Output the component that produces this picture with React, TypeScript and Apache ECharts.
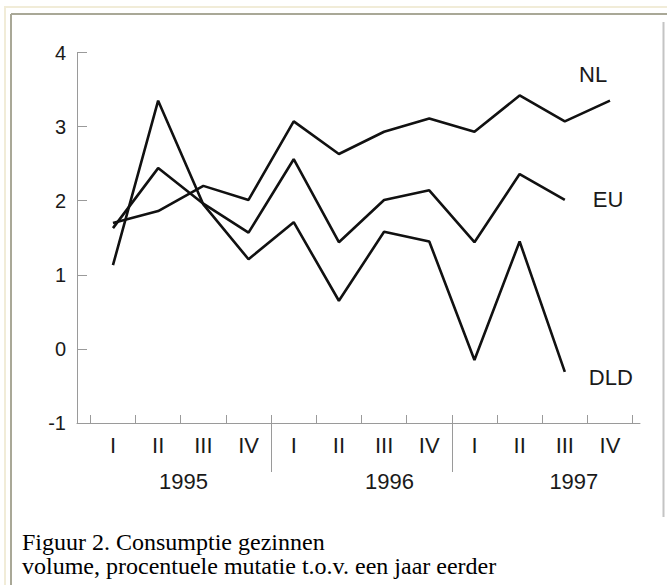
import React, { useEffect, useRef } from "react";
import * as echarts from "echarts";

// ---- data ----
const quarterLabels = ["I", "II", "III", "IV", "I", "II", "III", "IV", "I", "II", "III", "IV"];
const yearLabels = ["1995", "1996", "1997"];
const seriesNames = ["NL", "EU", "DLD"];
const nlValues = [1.7, 1.86, 2.2, 2.01, 3.07, 2.63, 2.93, 3.11, 2.93, 3.42, 3.07, 3.35];
const euValues = [1.63, 2.44, 1.96, 1.57, 2.56, 1.44, 2.01, 2.14, 1.44, 2.36, 2.01];
const dldValues = [1.13, 3.35, 1.95, 1.21, 1.71, 0.65, 1.58, 1.45, -0.15, 1.45, -0.31];
const yTicks = [-1, 0, 1, 2, 3, 4];
const captionLines = [
  "Figuur 2. Consumptie gezinnen",
  "volume, procentuele mutatie t.o.v. een jaar eerder",
];

// ---- layout constants ----
const W = 667;
const H = 585;
const SANS = "'Liberation Sans', Arial, Helvetica, sans-serif";
const SERIF = "'Liberation Serif', 'Times New Roman', serif";
const AXIS_GRAY = "#9a9a9a";
const TEXT = "#1a1a1a";
const LINE = "#111";
const X_MIN = -0.796;
const X_MAX = 11.664;
const yearLabelAt = [1.56, 6.12, 10.2];
const yearDividerAt = [3.5, 7.5];

const toPairs = (vals: number[]) => vals.map((v, i) => [i, v]);

export default function App() {
  const ref = useRef<HTMLDivElement>(null);

  useEffect(() => {
    if (!ref.current) return;
    const chart = echarts.init(ref.current, undefined, { renderer: "svg" });

    const bandTicks = quarterLabels.map((_, i) => i - 0.5).concat([quarterLabels.length - 0.5]);
    const labelTicks = quarterLabels.map((_, i) => i);

    const lineSeries = (name: string, vals: number[], label: any) => ({
      name,
      type: "line",
      xAxisIndex: 0,
      yAxisIndex: 0,
      data: toPairs(vals),
      symbol: "none",
      lineStyle: { color: LINE, width: 2.6 },
      itemStyle: { color: LINE },
      endLabel: {
        show: true,
        formatter: name,
        color: TEXT,
        fontFamily: SANS,
        fontSize: 22,
        ...label,
      },
      silent: true,
    });

    chart.setOption({
      animation: false,
      backgroundColor: "#fff",
      grid: {
        left: 77,
        right: 27,
        top: 52.5,
        bottom: H - 423,
        outerBoundsMode: "none",
      },
      xAxis: [
        {
          type: "value",
          position: "bottom",
          min: X_MIN,
          max: X_MAX,
          axisLine: { show: true, onZero: false, lineStyle: { color: AXIS_GRAY, width: 1 } },
          axisTick: {
            show: true,
            inside: true,
            length: 8,
            customValues: bandTicks,
            lineStyle: { color: AXIS_GRAY, width: 1 },
          },
          axisLabel: {
            show: true,
            customValues: labelTicks,
            formatter: (v: number) => quarterLabels[Math.round(v)] ?? "",
            color: TEXT,
            fontFamily: SANS,
            fontSize: 22,
            margin: 11,
          },
          splitLine: { show: false },
        },
        {
          type: "value",
          position: "bottom",
          min: X_MIN,
          max: X_MAX,
          axisLine: { show: false, onZero: false },
          axisTick: {
            show: true,
            inside: false,
            length: 49,
            customValues: yearDividerAt,
            lineStyle: { color: AXIS_GRAY, width: 1 },
          },
          axisLabel: {
            show: true,
            customValues: yearLabelAt,
            formatter: (v: number) => {
              const idx = yearLabelAt.findIndex((p) => Math.abs(p - v) < 1e-6);
              return idx >= 0 ? yearLabels[idx] : "";
            },
            color: TEXT,
            fontFamily: SANS,
            fontSize: 22,
            margin: 47,
          },
          splitLine: { show: false },
        },
      ],
      yAxis: {
        type: "value",
        min: yTicks[0],
        max: yTicks[yTicks.length - 1],
        interval: 1,
        axisLine: { show: true, onZero: false, lineStyle: { color: AXIS_GRAY, width: 1 } },
        axisTick: { show: true, inside: true, length: 10, lineStyle: { color: AXIS_GRAY, width: 1 } },
        axisLabel: {
          color: TEXT,
          fontFamily: SANS,
          fontSize: 20,
          margin: 11,
        },
        splitLine: { show: false },
      },
      series: [
        lineSeries(seriesNames[0], nlValues, { distance: 5, offset: [-36, -26] }),
        lineSeries(seriesNames[1], euValues, { distance: 28, offset: [0, 0] }),
        lineSeries(seriesNames[2], dldValues, { distance: 24, offset: [0, 6] }),
      ],
      graphic: [
        // outer beige frame
        { type: "rect", shape: { x: 5, y: 7, width: W, height: H }, style: { fill: "none", stroke: "#f1ecd8", lineWidth: 2 }, silent: true },
        // inner gray frame (top + left)
        { type: "line", shape: { x1: 11, y1: 14, x2: W, y2: 14 }, style: { stroke: "#a9a897", lineWidth: 2 }, silent: true },
        { type: "line", shape: { x1: 11, y1: 14, x2: 11, y2: H }, style: { stroke: "#a9a897", lineWidth: 2 }, silent: true },
        // right edge of image
        { type: "line", shape: { x1: 663.5, y1: 22, x2: 663.5, y2: 517 }, style: { stroke: "#c4c4c4", lineWidth: 2 }, silent: true },
        // caption
        {
          type: "text",
          left: 22,
          top: 530,
          style: { text: captionLines[0], font: `24px ${SERIF}`, fill: "#000" },
          silent: true,
        },
        {
          type: "text",
          left: 22,
          top: 554,
          style: { text: captionLines[1], font: `24px ${SERIF}`, fill: "#000" },
          silent: true,
        },
      ],
    });

    return () => chart.dispose();
  }, []);

  return (
    <div
      ref={ref}
      style={{ position: "absolute", left: 0, top: 0, width: W, height: H, background: "#fff" }}
    />
  );
}
